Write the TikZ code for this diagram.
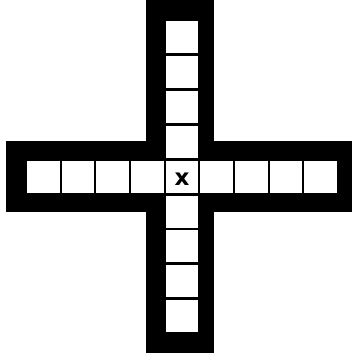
\documentclass[tikz,border=0pt]{standalone}
\usepackage{fontspec}
\setmainfont{DejaVu Sans}
\begin{document}
\begin{tikzpicture}[x=1pt,y=-1pt,
  hcell/.style={draw=black,fill=white,line width=2.2pt,minimum width=34.67pt,minimum height=34.5pt,inner sep=0pt,outer sep=0pt},
  vcell/.style={draw=black,fill=white,line width=2.6pt,minimum width=34pt,minimum height=34.8pt,inner sep=0pt,outer sep=0pt},
  mark label/.style={font=\fontsize{23}{23}\selectfont\bfseries}]
\useasboundingbox (0,0) rectangle (353,358);
% black cross frame
\fill[black] (146,0) rectangle (214,353);
\fill[black] (6,141) rectangle (352,212);
% vertical arm cells
\foreach \k in {0,1,2,3,5,6,7,8} {
  \node[vcell] (v\k) at (182,{20+34.8*(\k+0.5)}) {};
}
% horizontal arm cells
\foreach \k in {0,1,2,3,5,6,7,8} {
  \node[hcell] (h\k) at ({26+34.67*(\k+0.5)},177.25) {};
}
% centre cell
\node[hcell,minimum width=34.5pt] (c) at (182,177.25) {};
\node[mark label] (x) at ([yshift=-1.5pt]c.center) {x};
\end{tikzpicture}
\end{document}
